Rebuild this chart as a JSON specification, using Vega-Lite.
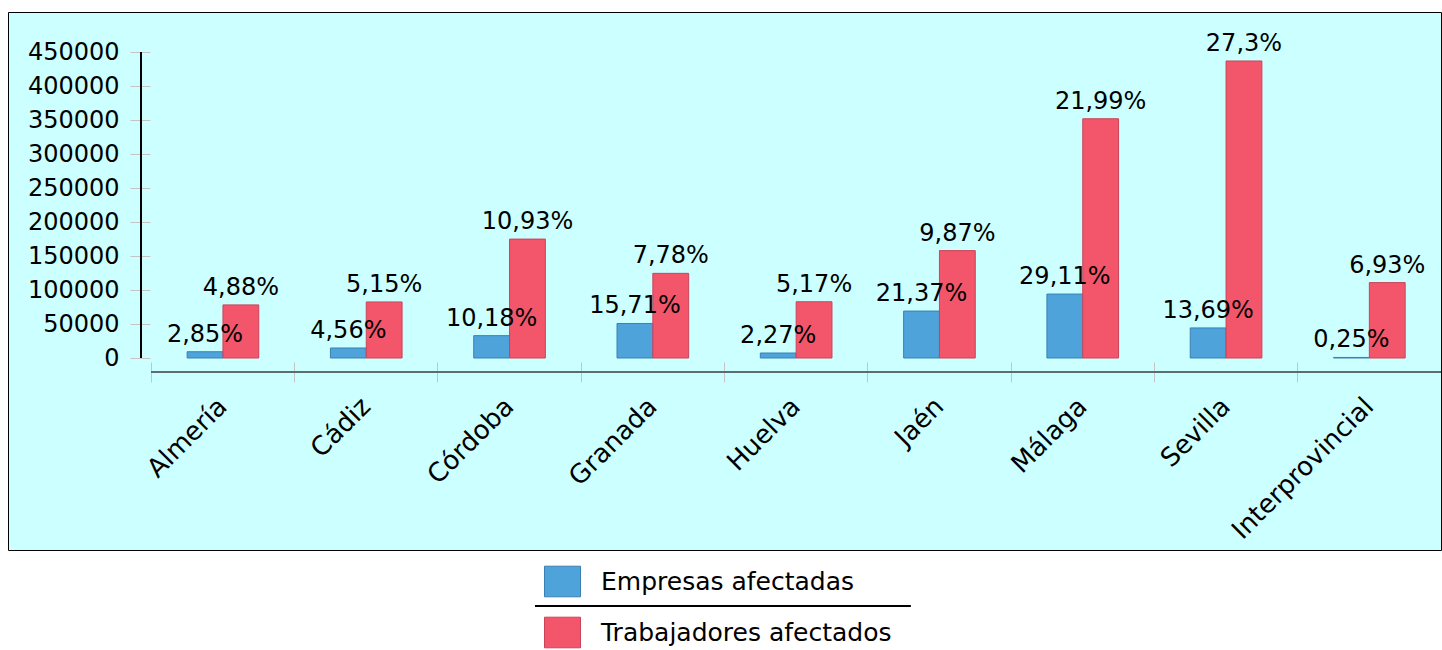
{
  "$schema": "https://vega.github.io/schema/vega-lite/v6.json",
  "width": 1433,
  "height": 538,
  "autosize": {"type": "none"},
  "padding": {"left": 8, "top": 12, "right": 1, "bottom": 100},
  "background": "#ffffff",
  "config": {
    "view": {"fill": "#ccffff", "stroke": "#000000", "strokeWidth": 1},
    "font": "DejaVu Sans",
    "axis": {"labelFont": "DejaVu Sans", "labelColor": "#000000", "labelFontSize": 24, "grid": false, "title": null, "labelLimit": 0},
    "legend": {"labelFont": "DejaVu Sans", "labelLimit": 0}
  },
  "data": {
    "values": [
      {"provincia": "Almería", "serie": "Empresas afectadas", "valor": 9206, "pct": "2,85%"},
      {"provincia": "Almería", "serie": "Trabajadores afectados", "valor": 78080, "pct": "4,88%"},
      {"provincia": "Cádiz", "serie": "Empresas afectadas", "valor": 14729, "pct": "4,56%"},
      {"provincia": "Cádiz", "serie": "Trabajadores afectados", "valor": 82400, "pct": "5,15%"},
      {"provincia": "Córdoba", "serie": "Empresas afectadas", "valor": 32881, "pct": "10,18%"},
      {"provincia": "Córdoba", "serie": "Trabajadores afectados", "valor": 174880, "pct": "10,93%"},
      {"provincia": "Granada", "serie": "Empresas afectadas", "valor": 50743, "pct": "15,71%"},
      {"provincia": "Granada", "serie": "Trabajadores afectados", "valor": 124480, "pct": "7,78%"},
      {"provincia": "Huelva", "serie": "Empresas afectadas", "valor": 7332, "pct": "2,27%"},
      {"provincia": "Huelva", "serie": "Trabajadores afectados", "valor": 82720, "pct": "5,17%"},
      {"provincia": "Jaén", "serie": "Empresas afectadas", "valor": 69025, "pct": "21,37%"},
      {"provincia": "Jaén", "serie": "Trabajadores afectados", "valor": 157920, "pct": "9,87%"},
      {"provincia": "Málaga", "serie": "Empresas afectadas", "valor": 94025, "pct": "29,11%"},
      {"provincia": "Málaga", "serie": "Trabajadores afectados", "valor": 351840, "pct": "21,99%"},
      {"provincia": "Sevilla", "serie": "Empresas afectadas", "valor": 44219, "pct": "13,69%"},
      {"provincia": "Sevilla", "serie": "Trabajadores afectados", "valor": 436800, "pct": "27,3%"},
      {"provincia": "Interprovincial", "serie": "Empresas afectadas", "valor": 808, "pct": "0,25%"},
      {"provincia": "Interprovincial", "serie": "Trabajadores afectados", "valor": 110880, "pct": "6,93%"}
    ]
  },
  "encoding": {
    "x": {
      "field": "provincia",
      "type": "nominal",
      "sort": ["Almería", "Cádiz", "Córdoba", "Granada", "Huelva", "Jaén", "Málaga", "Sevilla", "Interprovincial"],
      "scale": {"paddingInner": 0, "paddingOuter": 0.5, "align": 1},
      "axis": {
        "orient": "bottom",
        "offset": -188,
        "domain": false,
        "ticks": true,
        "tickSize": 20,
        "tickColor": "#c4c4c4",
        "tickWidth": 1,
        "bandPosition": 0,
        "labelOffset": 0,
        "labelAngle": -45,
        "labelAlign": "right",
        "labelBaseline": "middle",
        "labelPadding": 20,
        "labelFontSize": 26,
        "labelLimit": 0,
        "title": null
      }
    },
    "y": {
      "field": "valor",
      "type": "quantitative",
      "scale": {"domain": [-282353, 508824], "nice": false, "zero": false},
      "axis": {
        "orient": "left",
        "offset": -142,
        "domain": false,
        "values": [0, 50000, 100000, 150000, 200000, 250000, 300000, 350000, 400000, 450000],
        "format": "d",
        "tickSize": 20,
        "tickColor": "#c4c4c4",
        "labelPadding": 11,
        "labelFontSize": 24,
        "title": null
      }
    }
  },
  "layer": [
    {
      "mark": {"type": "bar", "strokeWidth": 1},
      "encoding": {
        "xOffset": {
          "field": "serie",
          "type": "nominal",
          "sort": ["Empresas afectadas", "Trabajadores afectados"],
          "scale": {"paddingInner": 0, "paddingOuter": 1}
        },
        "color": {
          "field": "serie",
          "type": "nominal",
          "scale": {"domain": ["Empresas afectadas", "Trabajadores afectados"], "range": ["#4fa3db", "#f3566a"]},
          "legend": {
            "orient": "none",
            "legendX": 536,
            "legendY": 551,
            "direction": "vertical",
            "title": null,
            "padding": 0,
            "symbolType": "M-1,-0.85H1V0.85H-1Z",
            "symbolSize": 1296,
            "symbolStrokeWidth": 1,
            "labelFontSize": 25,
            "labelColor": "#000000",
            "labelOffset": 20,
            "labelLimit": 0,
            "rowPadding": 15
          }
        },
        "stroke": {
          "field": "serie",
          "type": "nominal",
          "scale": {"domain": ["Empresas afectadas", "Trabajadores afectados"], "range": ["#3a80b2", "#c9445a"]},
          "legend": {
            "orient": "none",
            "legendX": 536,
            "legendY": 551,
            "direction": "vertical",
            "title": null,
            "padding": 0,
            "symbolType": "M-1,-0.85H1V0.85H-1Z",
            "symbolSize": 1296,
            "symbolStrokeWidth": 1,
            "labelFontSize": 25,
            "labelColor": "#000000",
            "labelOffset": 20,
            "labelLimit": 0,
            "rowPadding": 15
          }
        }
      }
    },
    {
      "mark": {"type": "text", "fontSize": 24, "color": "#000000", "baseline": "alphabetic", "dy": -10, "font": "DejaVu Sans"},
      "encoding": {
        "xOffset": {
          "field": "serie",
          "type": "nominal",
          "sort": ["Empresas afectadas", "Trabajadores afectados"],
          "scale": {"paddingInner": 0, "paddingOuter": 1}
        },
        "text": {"field": "pct"}
      }
    },
    {
      "mark": {"type": "rule", "color": "#000000", "strokeWidth": 1},
      "encoding": {
        "x": {"datum": "Almería", "bandPosition": -0.07},
        "y": {"datum": 0},
        "y2": {"datum": 450000}
      }
    },
    {
      "mark": {"type": "rule", "color": "#5b6d6d", "strokeWidth": 2},
      "encoding": {
        "x": {"datum": "Almería", "bandPosition": 0},
        "x2": {"datum": "Interprovincial", "bandPosition": 1},
        "y": {"datum": -20588}
      }
    },
    {
      "mark": {"type": "rule", "color": "#000000", "strokeWidth": 1},
      "encoding": {
        "x": {"datum": "Córdoba", "bandPosition": 0.679},
        "x2": {"datum": "Jaén", "bandPosition": 0.296},
        "y": {"datum": -364706}
      }
    }
  ]
}
